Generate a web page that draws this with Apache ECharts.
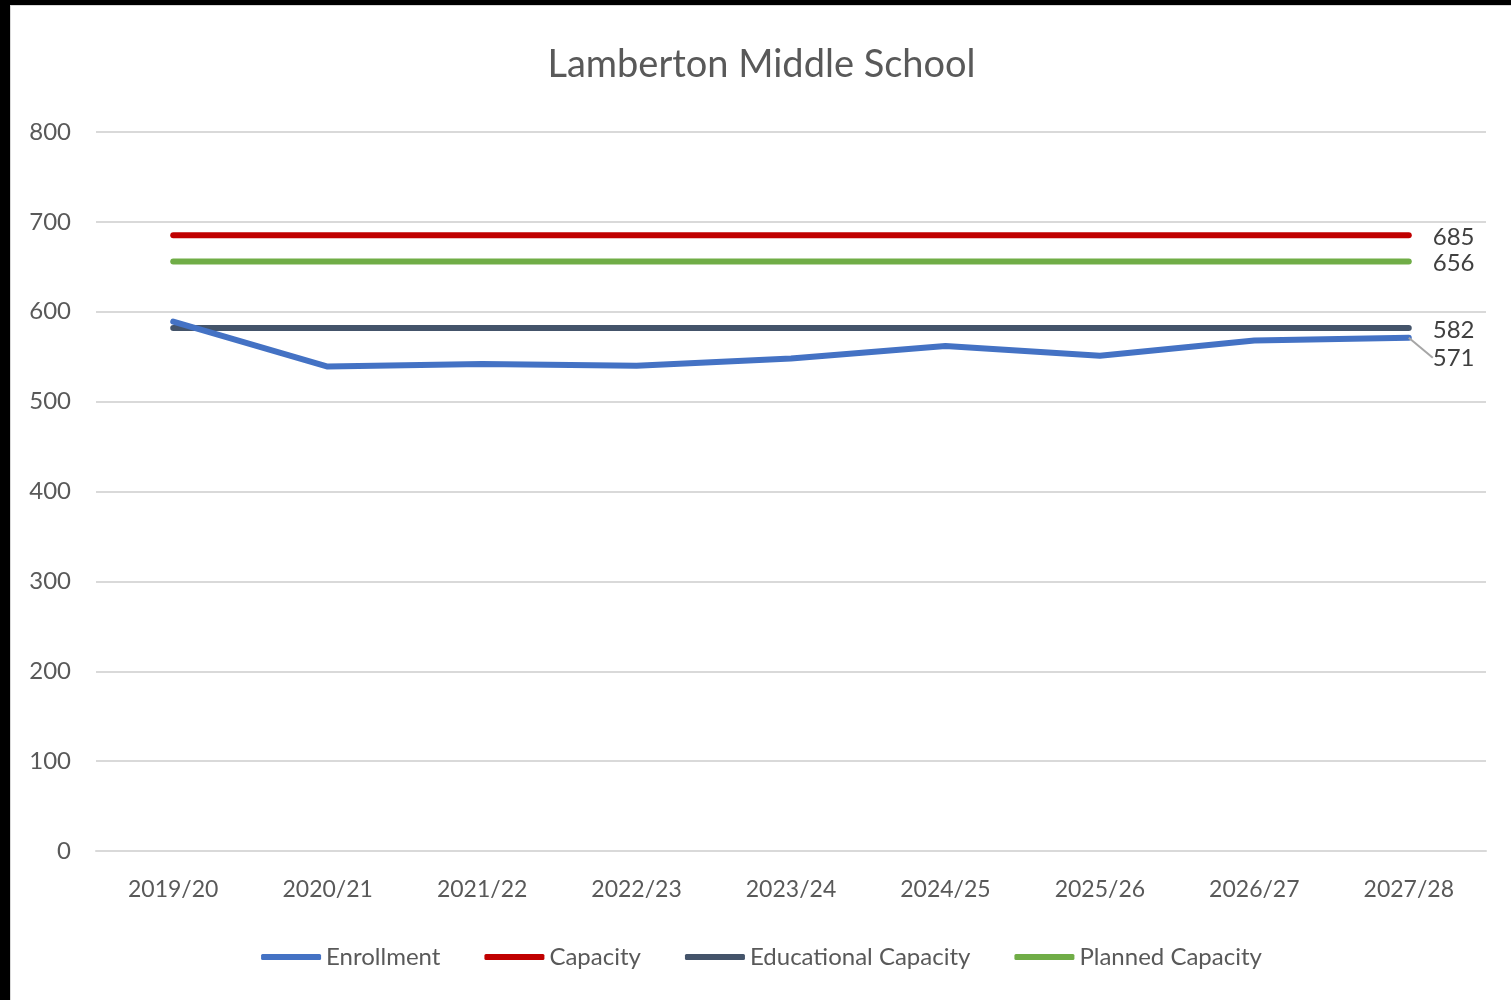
<!DOCTYPE html>
<html>
<head>
<meta charset="utf-8">
<script src="https://cdn.jsdelivr.net/npm/echarts@6/dist/echarts.min.js"></script>
<style>
  html, body { margin: 0; padding: 0; background: #000; }
  #chart {
    position: absolute;
    left: 10px;
    top: 5px;
    width: 1501px;
    height: 995px;
    background: #fff;
    border-left: 1px solid #d9d9d9;
    border-top: 1px solid #d9d9d9;
  }
</style>
</head>
<body>
<div id="chart"></div>
<script>
const years = ['2019/20', '2020/21', '2021/22', '2022/23', '2023/24', '2024/25', '2025/26', '2026/27', '2027/28']
const enrollment = [589, 539, 542, 540, 548, 562, 551, 568, 571]
const capacity = [685, 685, 685, 685, 685, 685, 685, 685, 685]
const educationalCapacity = [582, 582, 582, 582, 582, 582, 582, 582, 582]
const plannedCapacity = [656, 656, 656, 656, 656, 656, 656, 656, 656]

const font = 'Lato, "Open Sans", sans-serif'

// show a value label only on the last point of each line
function lastLabel(values) {
  return values.map((v, i) => (i === values.length - 1 ? { value: v, label: { show: true } } : v))
}

function makeSeries(name, values, color, z) {
  return {
    name: name,
    type: 'line',
    data: lastLabel(values),
    showSymbol: true,
    symbol: 'circle',
    symbolSize: 0,
    z: z,
    lineStyle: { color: color, width: 6, cap: 'round', join: 'round' },
    itemStyle: { color: color },
    label: {
      show: false,
      position: 'right',
      distance: 24,
      offset: [0, 2],
      color: '#404040',
      fontFamily: font,
      fontSize: 24,
    },
    emphasis: { disabled: true },
  }
}

const chart = echarts.init(document.getElementById('chart'))
chart.setOption({
  animation: false,
  textStyle: { fontFamily: font },
  title: {
    text: 'Lamberton Middle School',
    left: 'center',
    top: 35,
    textStyle: { color: '#595959', fontSize: 38, fontWeight: 'normal', fontFamily: font },
  },
  legend: {
    bottom: 27,
    left: 'center',
    itemWidth: 60,
    itemHeight: 6,
    itemGap: 44,
    icon: 'roundRect',
    textStyle: { color: '#595959', fontSize: 24, fontFamily: font },
    data: ['Enrollment', 'Capacity', 'Educational Capacity', 'Planned Capacity'],
  },
  grid: { left: 85, right: 26, top: 126, bottom: 150 },
  xAxis: {
    type: 'category',
    data: years,
    boundaryGap: true,
    axisLine: { lineStyle: { color: '#d9d9d9', width: 2 } },
    axisTick: { show: false },
    axisLabel: { color: '#595959', fontSize: 23, margin: 27, fontFamily: font },
  },
  yAxis: {
    type: 'value',
    min: 0,
    max: 800,
    interval: 100,
    axisLine: { show: false },
    axisTick: { show: false },
    axisLabel: { color: '#595959', fontSize: 24, margin: 25, fontFamily: font },
    splitLine: { lineStyle: { color: '#d9d9d9', width: 2 } },
  },
  series: [
    Object.assign(makeSeries('Enrollment', enrollment, '#4472C4', 4), {
      labelLayout: { dy: 20 },
      labelLine: { show: true, length2: 20, lineStyle: { color: '#a6a6a6', width: 2 } },
    }),
    makeSeries('Capacity', capacity, '#C00000', 3),
    makeSeries('Educational Capacity', educationalCapacity, '#44546A', 3),
    makeSeries('Planned Capacity', plannedCapacity, '#70AD47', 3),
  ],
})
</script>
</body>
</html>
